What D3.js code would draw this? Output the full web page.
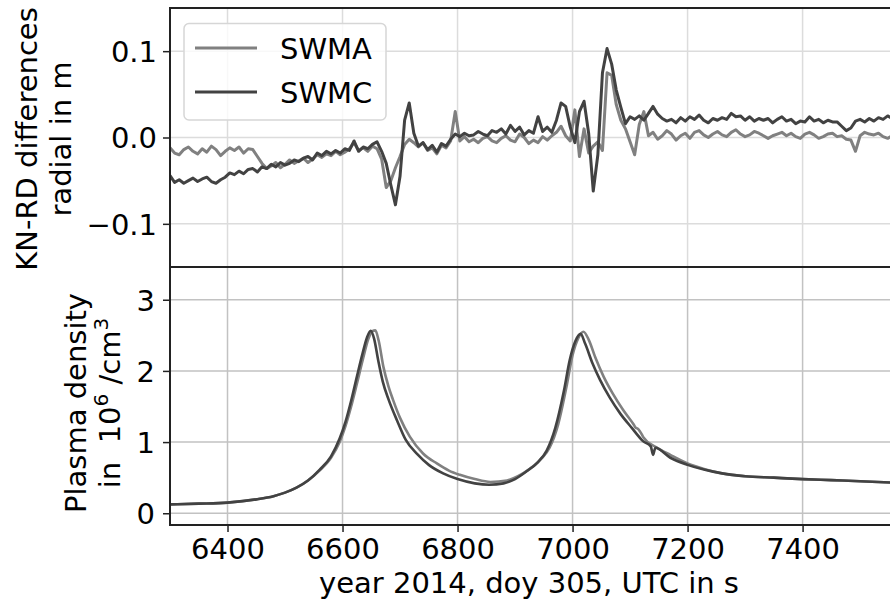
<!DOCTYPE html>
<html>
<head>
<meta charset="utf-8">
<script src="https://cdn.jsdelivr.net/npm/d3@7"></script>
<style>
html,body{margin:0;padding:0;background:#fff;}
svg{display:block;}
text{font-family:"DejaVu Sans",sans-serif;fill:#000;}
</style>
</head>
<body>
<svg id="chart" width="890" height="606"></svg>
<script>
// ---------- DATA ----------
// top panel: KN-RD radial differences (m), sampled every 8 s from 6300 s
const diffStart = 6300, diffStep = 8;
const diffSWMA = [
 -0.012,-0.018,-0.020,-0.014,-0.011,-0.016,-0.019,-0.013,-0.017,-0.010,
 -0.014,-0.021,-0.016,-0.012,-0.015,-0.011,-0.018,-0.013,-0.014,-0.022,
 -0.030,-0.036,-0.033,-0.029,-0.035,-0.031,-0.026,-0.030,-0.027,-0.024,
 -0.029,-0.025,-0.020,-0.023,-0.019,-0.021,-0.016,-0.020,-0.017,-0.013,
 -0.006,-0.015,-0.012,-0.016,-0.010,-0.013,-0.025,-0.058,-0.050,-0.035,
 -0.022,-0.008,-0.002,-0.006,-0.011,-0.006,-0.015,-0.012,-0.019,-0.009,
 -0.012,-0.004, 0.030,-0.004, 0.001,-0.005,-0.002,-0.006,-0.001, 0.001,
 -0.004,-0.006,-0.001, 0.002,-0.003,-0.005, 0.004, 0.000,-0.007,-0.003,
 -0.006, 0.001,-0.003, 0.002, 0.006, 0.013, 0.002,-0.004, 0.032,-0.022,
  0.010,-0.018,-0.010,-0.005,-0.015, 0.075, 0.072, 0.038, 0.020, 0.010,
 -0.005,-0.020, 0.015, 0.030, 0.002, 0.006,-0.002, 0.002, 0.008, 0.004,
 -0.003, 0.002, 0.005,-0.001, 0.006, 0.008, 0.003, 0.000, 0.004, 0.007,
  0.003, 0.001, 0.006, 0.009, 0.004, 0.001, 0.003, 0.007, 0.005, 0.002,
 -0.001, 0.002, 0.004, 0.006, 0.002, 0.005, 0.001,-0.001, 0.004, 0.006,
  0.003,-0.001, 0.001, 0.004, 0.005, 0.001, 0.002,-0.002,-0.003,-0.016,
  0.002, 0.006, 0.004, 0.003, 0.005, 0.001,-0.001, 0.002
];
const diffSWMC = [
 -0.044,-0.052,-0.049,-0.053,-0.050,-0.047,-0.051,-0.048,-0.046,-0.051,
 -0.053,-0.049,-0.046,-0.041,-0.043,-0.039,-0.042,-0.037,-0.036,-0.040,
 -0.034,-0.036,-0.031,-0.034,-0.029,-0.032,-0.030,-0.026,-0.028,-0.024,
 -0.022,-0.026,-0.018,-0.021,-0.016,-0.019,-0.015,-0.018,-0.013,-0.015,
 -0.004,-0.016,-0.011,-0.013,-0.008,-0.005,-0.016,-0.030,-0.055,-0.078,
 -0.045, 0.020, 0.040, 0.005,-0.010,-0.006,-0.014,-0.009,-0.017,-0.007,
 -0.010,-0.002, 0.004, 0.001, 0.005, 0.002, 0.003, 0.007, 0.004, 0.002,
  0.008, 0.006, 0.010, 0.004, 0.014, 0.007, 0.012, 0.003, 0.008, 0.005,
  0.024, 0.007, 0.012, 0.006, 0.020, 0.040, 0.036, 0.012,-0.006, 0.030,
  0.042, 0.005,-0.062,-0.020, 0.075, 0.103, 0.085, 0.055, 0.035, 0.016,
  0.024, 0.021, 0.025, 0.020, 0.028, 0.036, 0.027, 0.022, 0.019, 0.021,
  0.017, 0.023, 0.019, 0.024, 0.021, 0.026, 0.020, 0.017, 0.022, 0.020,
  0.023, 0.021, 0.028, 0.024, 0.025, 0.020, 0.024, 0.019, 0.022, 0.020,
  0.022, 0.017, 0.021, 0.024, 0.019, 0.021, 0.016, 0.019, 0.018, 0.024,
  0.019, 0.021, 0.017, 0.020, 0.018, 0.018, 0.013, 0.008, 0.011, 0.019,
  0.021, 0.018, 0.022, 0.019, 0.023, 0.021, 0.025, 0.022
];

// bottom panel: plasma density (10^6 /cm^3)
const densTimeSWMA = [6300,6350,6400,6450,6480,6500,6520,6540,6560,6580,6595,6605,6615,6625,6635,6645,6652,6657,6663,6671,6680,6688,6700,6717,6740,6764,6785,6804,6830,6857,6886,6905,6925,6945,6960,6975,6990,7000,7010,7019,7028,7040,7054,7070,7088,7106,7110,7113,7118,7123,7145,7170,7200,7230,7260,7300,7350,7400,7450,7500,7556];
const densSWMA     = [0.125,0.135,0.150,0.195,0.240,0.290,0.360,0.460,0.600,0.780,1.000,1.220,1.500,1.820,2.150,2.450,2.560,2.570,2.420,2.060,1.780,1.590,1.340,1.076,0.840,0.700,0.600,0.540,0.480,0.440,0.460,0.520,0.620,0.760,0.920,1.250,1.800,2.220,2.460,2.550,2.440,2.180,1.920,1.680,1.450,1.250,1.200,1.190,1.140,1.070,0.930,0.820,0.700,0.620,0.560,0.520,0.500,0.480,0.465,0.450,0.430];
const densTimeSWMC = [6300,6350,6400,6450,6480,6500,6520,6540,6560,6580,6595,6605,6615,6625,6635,6643,6649,6655,6662,6670,6680,6695,6710,6730,6750,6775,6800,6830,6855,6880,6900,6920,6940,6955,6970,6985,6995,7005,7014,7022,7035,7048,7065,7083,7103,7123,7136,7140,7144,7170,7200,7230,7260,7300,7350,7400,7450,7500,7556];
const densSWMC     = [0.125,0.135,0.150,0.195,0.240,0.290,0.360,0.460,0.610,0.800,1.050,1.280,1.580,1.920,2.250,2.480,2.565,2.450,2.150,1.850,1.600,1.300,1.030,0.830,0.680,0.560,0.480,0.420,0.400,0.420,0.480,0.590,0.720,0.880,1.200,1.720,2.150,2.420,2.520,2.380,2.100,1.870,1.620,1.400,1.200,1.010,0.940,0.820,0.920,0.780,0.680,0.610,0.560,0.520,0.500,0.480,0.465,0.450,0.430];

const xTicks = [6400,6600,6800,7000,7200,7400];
const yTicksTop = [-0.1,0.0,0.1];
const yTicksBottom = [0,1,2,3];
const seriesNames = ["SWMA","SWMC"];
const seriesColors = ["#808080","#424242"];

// ---------- LAYOUT ----------
const svg = d3.select("#chart");
const L = 170, R = 890;
const topY0 = 8, topY1 = 267, botY0 = 267, botY1 = 525;
const FS = 29;

const x = d3.scaleLinear().domain([6300, 7552]).range([L, R]);
const yTop = d3.scaleLinear().domain([-0.15, 0.15]).range([topY1, topY0]);
const yBot = d3.scaleLinear().domain([-0.165, 3.46]).range([botY1, botY0]);

const tTop = diffSWMA.map((_, i) => diffStart + i * diffStep);

// clip paths
const defs = svg.append("defs");
defs.append("clipPath").attr("id","clipTop").append("rect").attr("x",L).attr("y",topY0).attr("width",R-L).attr("height",topY1-topY0);
defs.append("clipPath").attr("id","clipBot").append("rect").attr("x",L).attr("y",botY0).attr("width",R-L).attr("height",botY1-botY0);

// grids
function grid(yScale, ticks, y0, y1, color){
  const g = svg.append("g");
  g.selectAll(".vx").data(xTicks).join("line")
    .attr("x1",d=>x(d)).attr("x2",d=>x(d)).attr("y1",y0).attr("y2",y1)
    .attr("stroke",color).attr("stroke-width",1.5);
  g.selectAll(".hy").data(ticks).join("line")
    .attr("x1",L).attr("x2",R).attr("y1",d=>yScale(d)).attr("y2",d=>yScale(d))
    .attr("stroke",color).attr("stroke-width",1.5);
}
grid(yTop, yTicksTop, topY0, topY1, "#dcdcdc");
grid(yBot, yTicksBottom, botY0, botY1, "#c2c2c2");

// top lines
const lineTop = d3.line().x((d,i)=>x(tTop[i])).y(d=>yTop(d));
const gTop = svg.append("g").attr("clip-path","url(#clipTop)");
gTop.append("path").attr("d", lineTop(diffSWMA)).attr("fill","none")
  .attr("stroke",seriesColors[0]).attr("stroke-width",3).attr("stroke-linejoin","round");
gTop.append("path").attr("d", lineTop(diffSWMC)).attr("fill","none")
  .attr("stroke",seriesColors[1]).attr("stroke-width",3).attr("stroke-linejoin","round");

// bottom lines
const gBot = svg.append("g").attr("clip-path","url(#clipBot)");
function densLine(times){
  return d3.line().x((d,i)=>x(times[i])).y(d=>yBot(d)).curve(d3.curveMonotoneX);
}
gBot.append("path").attr("d", densLine(densTimeSWMA)(densSWMA)).attr("fill","none")
  .attr("stroke",seriesColors[0]).attr("stroke-width",2.6);
gBot.append("path").attr("d", densLine(densTimeSWMC)(densSWMC)).attr("fill","none")
  .attr("stroke",seriesColors[1]).attr("stroke-width",2.6);

// axes
const axisStyle = g => {
  g.selectAll(".domain").remove();
  g.selectAll(".tick line").attr("stroke","#222").attr("stroke-width",1.5);
  g.selectAll(".tick text").attr("font-family","DejaVu Sans").attr("font-size",FS).attr("fill","#000");
};
const axTop = svg.append("g").attr("transform",`translate(${L},0)`)
  .call(d3.axisLeft(yTop).tickValues(yTicksTop).tickSize(7).tickPadding(6)
    .tickFormat(d => d3.format(".1f")(d).replace("-","\u2212")))
  .call(axisStyle);
const axBot = svg.append("g").attr("transform",`translate(${L},0)`)
  .call(d3.axisLeft(yBot).tickValues(yTicksBottom).tickSize(7).tickPadding(8).tickFormat(d3.format("d")))
  .call(axisStyle);
const axX = svg.append("g").attr("transform",`translate(0,${botY1})`)
  .call(d3.axisBottom(x).tickValues(xTicks).tickSize(7).tickPadding(6).tickFormat(d3.format("d")))
  .call(axisStyle);
axTop.selectAll(".tick text").attr("dy","0.36em");
axBot.selectAll(".tick text").attr("dy","0.36em");
axX.selectAll(".tick text").attr("dy","0.71em");

// spines
function box(y0, y1){
  svg.append("rect").attr("x",L).attr("y",y0).attr("width",R+1-L).attr("height",y1-y0)
    .attr("fill","none").attr("stroke","#222").attr("stroke-width",2);
}
box(topY0, topY1);
box(botY0, botY1);

// legend
const lg = svg.append("g");
lg.append("rect").attr("x",184).attr("y",23.5).attr("width",202).attr("height",96.5).attr("rx",5)
  .attr("fill","rgba(255,255,255,0.8)").attr("stroke","#d6d6d6").attr("stroke-width",1.5);
seriesNames.forEach((name, i) => {
  const yy = 48 + i * 44;
  lg.append("line").attr("x1",195).attr("x2",257).attr("y1",yy).attr("y2",yy)
    .attr("stroke",seriesColors[i]).attr("stroke-width",2.8);
  lg.append("text").attr("x",280).attr("y",yy+10.5).attr("font-size",FS).text(name);
});

// axis labels
const yl1 = svg.append("text").attr("transform","translate(37,139) rotate(-90)")
  .attr("text-anchor","middle").attr("font-size",FS);
yl1.append("tspan").attr("x",0).attr("y",0).text("KN-RD differences");
yl1.append("tspan").attr("x",0).attr("y",33.5).text("radial in m");

const yl2 = svg.append("text").attr("transform","translate(86,403) rotate(-90)")
  .attr("text-anchor","middle").attr("font-size",FS).style("white-space","pre");
yl2.append("tspan").attr("x",0).attr("y",0).text("Plasma density");
yl2.append("tspan").attr("x",0).attr("y",34).text("in  10");
yl2.append("tspan").attr("dy",-12).attr("font-size",20).text("6");
yl2.append("tspan").attr("dy",12).text(" /cm");
yl2.append("tspan").attr("dy",-12).attr("font-size",20).text("3");

svg.append("text").attr("x",529).attr("y",593).attr("text-anchor","middle")
  .attr("font-size",FS).text("year 2014, doy 305, UTC in s");
</script>
</body>
</html>
